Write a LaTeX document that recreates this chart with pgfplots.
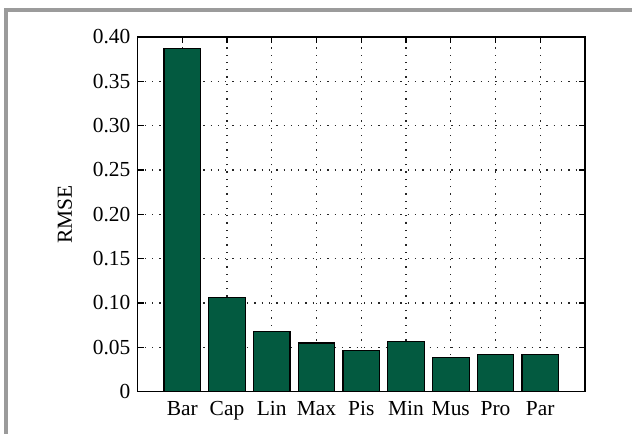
\documentclass[border=0pt]{standalone}
\usepackage{fontspec}
\setmainfont{Liberation Serif}
\usepackage{pgfplots}
\pgfplotsset{compat=1.18}
\definecolor{barfill}{RGB}{3,90,64}
\definecolor{framegray}{RGB}{155,155,155}
\newcommand{\labelfont}{\fontsize{21.5}{25}\selectfont}
\begin{document}
\begin{tikzpicture}
\useasboundingbox (0,0) rectangle (632bp,434bp);
% frame edges
\fill[framegray] (4bp,0) rectangle (8.3bp,426bp);
\fill[framegray] (4bp,422.3bp) rectangle (632bp,426bp);
\begin{axis}[
  at={(137.5bp,42.3bp)}, anchor=south west,
  scale only axis, width=447.5bp, height=354.7bp,
  xmin=0, xmax=10, ymin=0, ymax=0.4,
  ybar, bar width=0.82,
  axis line style={black, line width=1.2bp},
  xtick={1,2,3,4,5,6,7,8,9},
  xticklabels={Bar,Cap,Lin,Max,Pis,Min,Mus,Pro,Par},
  ytick={0,0.05,0.10,0.15,0.20,0.25,0.30,0.35,0.40},
  yticklabels={0,0.05,0.10,0.15,0.20,0.25,0.30,0.35,0.40},
  tick pos=both, tick align=inside,
  major tick length=6bp,
  every tick/.style={black, line width=1.2bp},
  xmajorgrids, ymajorgrids,
  major grid style={black!85, line width=1.3bp, dash pattern=on 1.3bp off 6bp},
  every tick label/.append style={font=\labelfont},
  xticklabel style={yshift=-6bp},
  yticklabel style={xshift=-3.7bp},
  ylabel={RMSE},
  every axis y label/.style={at={(axis description cs:-0.162,0.5)}, rotate=90, anchor=center, font=\labelfont},
]
\addplot[fill=barfill, draw=black, line width=1.2bp]
  coordinates {(1,0.387) (2,0.1065) (3,0.068) (4,0.055) (5,0.0465)
               (6,0.0565) (7,0.0385) (8,0.042) (9,0.042)};
\end{axis}
\end{tikzpicture}
\end{document}
